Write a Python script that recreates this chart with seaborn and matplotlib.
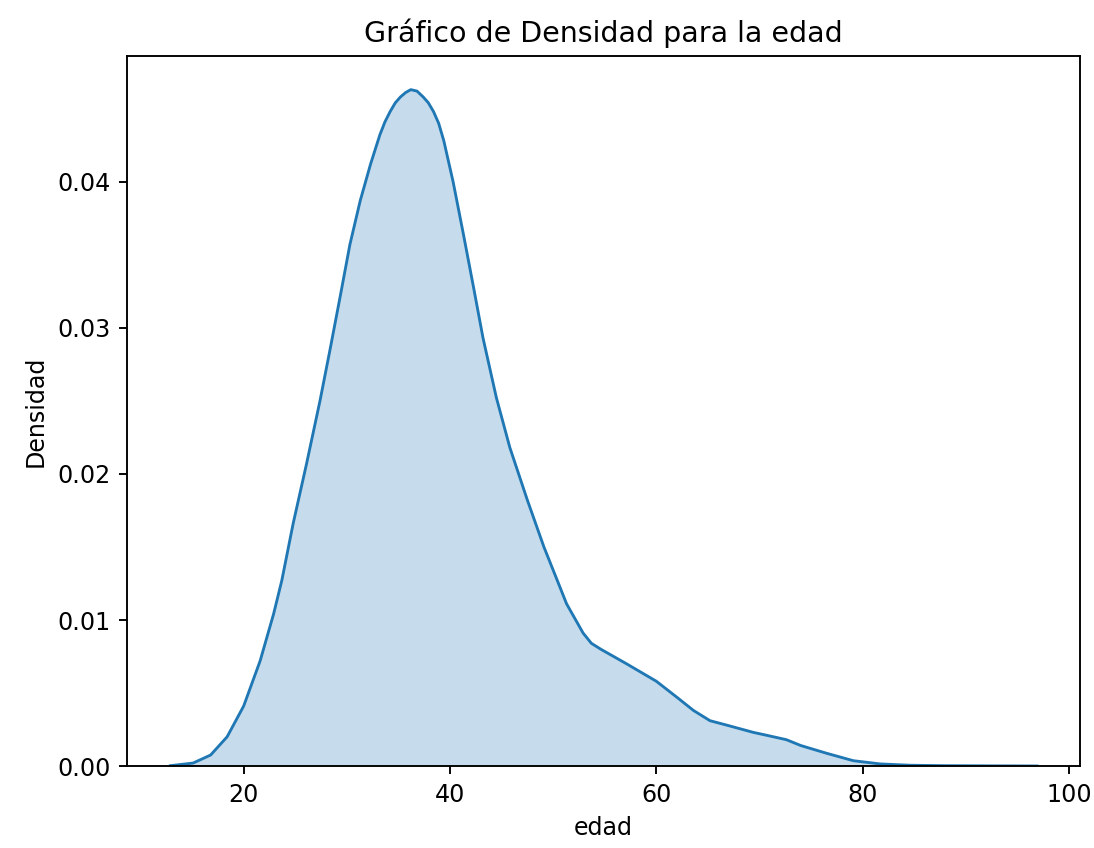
import matplotlib
matplotlib.use("Agg")
import matplotlib.pyplot as plt
import seaborn as sns
import pandas as pd

# Estimated density of age (edad) at selected ages
edad = [12.9, 15.1, 16.8, 18.4, 20.0, 21.6, 22.9, 23.7, 24.8, 26.1, 27.4, 28.4,
        29.4, 30.3, 31.3, 32.3, 33.2, 33.7, 34.2, 34.7, 35.2, 35.7, 36.2, 36.8,
        37.4, 37.9, 38.4, 38.9, 39.4, 40.3, 41.3, 42.3, 43.2, 44.5, 45.8, 47.5,
        49.1, 50.4, 51.3, 52.9, 53.7, 54.6, 57.1, 60.0, 62.0, 63.6, 65.2, 66.8,
        69.4, 70.7, 72.6, 74.0, 76.5, 79.1, 81.7, 84.6, 88.0, 92.0, 96.9]
densidad = [0.00002, 0.0002, 0.00075, 0.0020, 0.0041, 0.0072, 0.0104, 0.0127,
            0.0166, 0.0207, 0.0250, 0.0286, 0.0323, 0.0357, 0.0387, 0.0412,
            0.0432, 0.0441, 0.0448, 0.0454, 0.0458, 0.0461, 0.0463, 0.0462,
            0.0458, 0.0454, 0.0448, 0.0440, 0.0428, 0.0400, 0.0364, 0.0327,
            0.0293, 0.0252, 0.0218, 0.0182, 0.0150, 0.0127, 0.0111, 0.0091,
            0.0084, 0.0080, 0.0070, 0.0058, 0.0047, 0.0038, 0.0031, 0.0028,
            0.0023, 0.0021, 0.0018, 0.0014, 0.00087, 0.00036, 0.00014, 0.00005,
            0.00002, 0.00001, 0.0]

df = pd.DataFrame({"edad": edad, "densidad": densidad})

fig = plt.figure(figsize=(6.4, 4.96), dpi=171)
ax = fig.add_axes([0.1161, 0.0967, 0.8711, 0.8373])

color = sns.color_palette()[0]
ax.fill_between(df["edad"], df["densidad"], color=color, alpha=0.25, linewidth=0)
sns.lineplot(data=df, x="edad", y="densidad", ax=ax, color=color, linewidth=1.2)
ax.set_ylim(bottom=0)

ax.set_title("Gráfico de Densidad para la edad")
ax.set_xlabel("edad")
ax.set_ylabel("Densidad")
ax.set_yticks([0.0, 0.01, 0.02, 0.03, 0.04])
ax.set_xticks([20, 40, 60, 80, 100])

fig.savefig("out.png", dpi=171)
